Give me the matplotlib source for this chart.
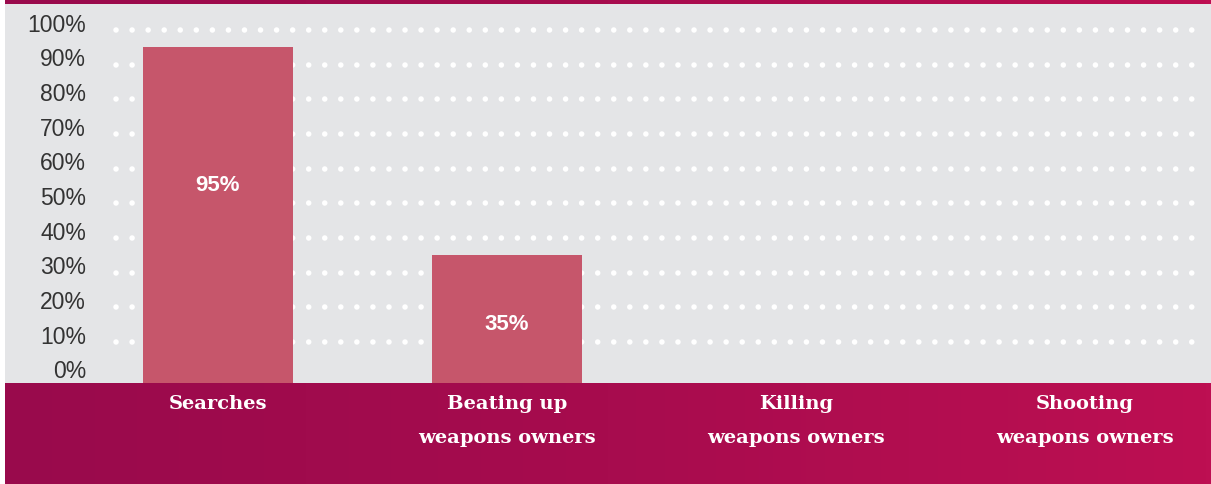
import numpy as np
import matplotlib
matplotlib.use('Agg')
import matplotlib.pyplot as plt
from matplotlib.transforms import blended_transform_factory, offset_copy
from matplotlib.colors import LinearSegmentedColormap

categories = ["Searches", "Beating up\nweapons owners", "Killing\nweapons owners", "Shooting\nweapons owners"]
values = [95, 35, None, None]
bar_labels = ["95%", "35%", "", ""]
ytick_values = [0, 10, 20, 30, 40, 50, 60, 70, 80, 90, 100]
ytick_labels = [f"{v}%" for v in ytick_values]

W, H = 1211, 484
fig = plt.figure(figsize=(W / 100, H / 100), dpi=100, facecolor='white')

def px_axes(x0, y0, x1, y1):
    # pixel box (top-left origin) -> figure axes
    return fig.add_axes([x0 / W, 1 - y1 / H, (x1 - x0) / W, (y1 - y0) / H])

# gradient bands
band_cmap = LinearSegmentedColormap.from_list("band", ["#990a4c", "#a70c4e", "#bd0f52"])
grad = np.linspace(0, 1, 256).reshape(1, -1)
for box in [(5, 0, W, 4), (5, 383, W, H)]:
    bax = px_axes(*box)
    bax.imshow(grad, aspect='auto', cmap=band_cmap, extent=[0, 1, 0, 1])
    bax.set_axis_off()

# main plot area
ax = px_axes(5, 4, W, 383)
ax.set_facecolor('#e4e5e7')
for s in ax.spines.values():
    s.set_visible(False)

step = 289.0
x0 = -213 / step
x1 = (W - 5 - 213) / step
ax.set_xlim(x0, x1)
ymin, ymax = -1.8, 107.5
ax.set_ylim(ymin, ymax)
ax.set_xticks([])
ax.set_yticks([])

# dotted white grid
lw = 4.0
for v in ytick_values[1:]:
    ax.hlines(v, (116 - 218) / step, (1198 - 218) / step, colors='white',
              linewidth=lw, linestyles=(0, (0.01, 16 * 0.72 / lw)),
              capstyle='round', zorder=1)

xs = np.arange(len(categories))
for i, v in enumerate(values):
    if v is None:
        continue
    ax.bar(xs[i], v - ymin, bottom=ymin, width=150 / step, color='#c6566b',
           zorder=2, clip_on=False)
    ax.text(xs[i], 0.667 * v - 8.3, bar_labels[i], color='white', fontsize=16,
            fontweight='bold', ha='center', va='center', family='Liberation Sans', zorder=3)

# y tick labels, sitting a bit above the dotted lines
trans = blended_transform_factory(ax.transAxes, ax.transData)
trans = offset_copy(trans, fig=fig, x=0, y=5, units='dots')
for v, lab in zip(ytick_values, ytick_labels):
    ax.text((86 - 5) / (W - 5), v, lab, transform=trans, ha='right', va='center',
            fontsize=16.5, color='#333333', family='Liberation Sans')

# category labels in the band
for i, cat in enumerate(categories):
    xfig = (218 + i * step) / W
    fig.text(xfig, 1 - 395 / H, cat, ha='center', va='top', color='white',
             fontsize=14, fontweight='bold', family='DejaVu Serif',
             linespacing=2.15)

fig.savefig('out.png', dpi=100, facecolor='white')
